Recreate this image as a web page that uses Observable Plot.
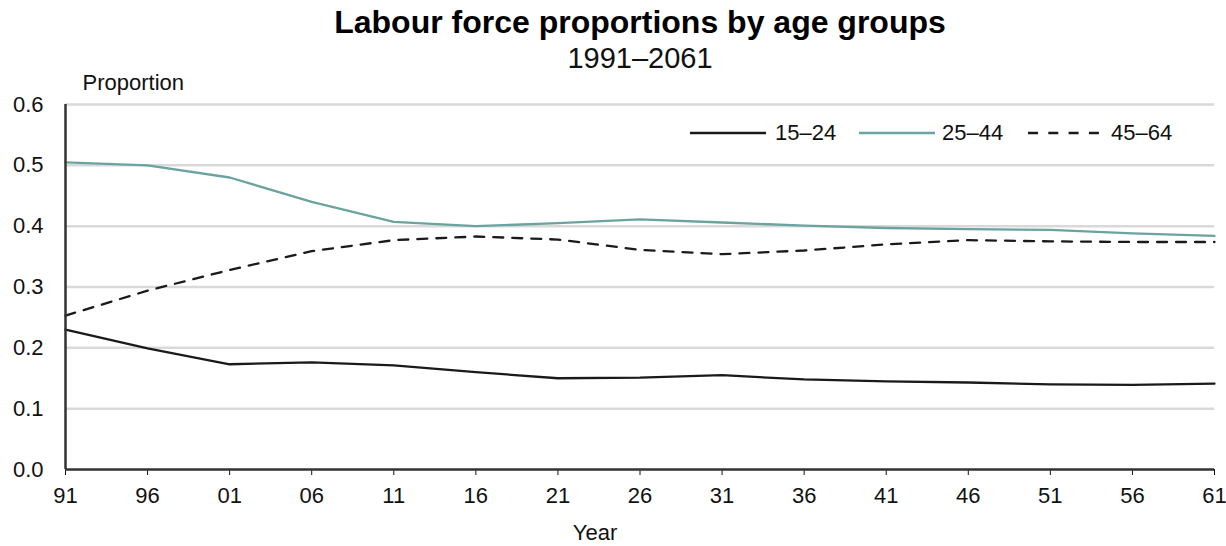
<!DOCTYPE html>
<html>
<head>
<meta charset="utf-8">
<script src="https://cdn.jsdelivr.net/npm/d3@7"></script>
<script src="https://cdn.jsdelivr.net/npm/@observablehq/plot@0.6"></script>
<style>
  body { margin: 0; background: #fff; font-family: "Liberation Sans", Arial, sans-serif; }
  #wrap { position: relative; width: 1226px; height: 546px; }
  #title { position: absolute; left: 0; width: 1280px; top: 4px; text-align: center; font-weight: bold; font-size: 32px; color: #000; white-space: nowrap; }
  #subtitle { position: absolute; left: 0; width: 1280px; top: 42px; text-align: center; font-size: 29px; color: #111; white-space: nowrap; }
  #chart { position: absolute; left: 0; top: 70px; }
  #legend { position: absolute; top: 120px; left: 0; font-size: 22px; color: #111; }
  .item { position: absolute; white-space: nowrap; }
</style>
</head>
<body>
<div id="wrap">
  <div id="title">Labour force proportions by age groups</div>
  <div id="subtitle">1991–2061</div>
  <div id="chart"></div>
  <div id="legend"></div>
</div>
<script>
const years = [1991, 1996, 2001, 2006, 2011, 2016, 2021, 2026, 2031, 2036, 2041, 2046, 2051, 2056, 2061];
const age15to24 = [0.230, 0.199, 0.173, 0.176, 0.171, 0.160, 0.150, 0.151, 0.155, 0.148, 0.145, 0.143, 0.140, 0.139, 0.141];
const age25to44 = [0.505, 0.500, 0.480, 0.440, 0.407, 0.400, 0.405, 0.411, 0.406, 0.401, 0.397, 0.395, 0.394, 0.388, 0.384];
const age45to64 = [0.253, 0.294, 0.328, 0.359, 0.377, 0.383, 0.378, 0.361, 0.354, 0.360, 0.370, 0.377, 0.375, 0.374, 0.374];
const seriesNames = ["15–24", "25–44", "45–64"];
const seriesColors = ["#1a1a1a", "#6aa39f", "#1a1a1a"];
const seriesDash = [null, null, "10,9"];
const yTicks = [0, 0.1, 0.2, 0.3, 0.4, 0.5, 0.6];

const allSeries = [age15to24, age25to44, age45to64];
const data = [];
allSeries.forEach((vals, s) => vals.forEach((v, i) => data.push({year: years[i], value: v, series: seriesNames[s]})));

const W = 1226, H = 476;
const chart = Plot.plot({
  width: W,
  height: H,
  marginLeft: 65,
  marginRight: 12,
  marginTop: 34,
  marginBottom: 77,
  style: {fontFamily: "'Liberation Sans', Arial, sans-serif", fontSize: "22px", color: "#111", background: "#fff"},
  x: {domain: [1991, 2061], ticks: years, tickFormat: d => String(d % 100).padStart(2, "0"), label: null},
  y: {domain: [0, 0.6], ticks: yTicks, tickFormat: d3.format(".1f"), label: null},
  marks: [
    Plot.gridY(yTicks.slice(1), {stroke: "#d9d9d9", strokeOpacity: 1, strokeWidth: 2.5}),
    Plot.axisY({ticks: yTicks, tickSize: 0, tickPadding: 22, tickFormat: d3.format(".1f"), fontSize: 22, label: null}),
    Plot.axisX({ticks: years, tickSize: 6, tickPadding: 12, tickFormat: d => String(d % 100).padStart(2, "0"), fontSize: 22, label: null}),
    ...seriesNames.map((name, s) => Plot.line(data.filter(d => d.series === name), {
      x: "year", y: "value", stroke: seriesColors[s], strokeWidth: 2.3,
      strokeDasharray: seriesDash[s] || undefined, curve: "linear"
    })),
    Plot.ruleX([1991], {stroke: "#333", strokeWidth: 2.5}),
    Plot.ruleY([0], {stroke: "#333", strokeWidth: 2.5}),
    Plot.text(["Proportion"], {frameAnchor: "top-left", lineAnchor: "middle", dx: 17, dy: -22, textAnchor: "start", fontSize: 22, fill: "#111"}),
    Plot.text(["Year"], {frameAnchor: "bottom", lineAnchor: "middle", dx: -45, dy: 63, fontSize: 22, fill: "#111"})
  ]
});
document.getElementById("chart").appendChild(chart);

// Legend overlay inside plot area
const legendPos = [{line: 690, text: 775, w: 76}, {line: 859, text: 942, w: 76}, {line: 1028, text: 1111, w: 71}];
const leg = document.getElementById("legend");
seriesNames.forEach((name, s) => {
  const p = legendPos[s];
  const sw = document.createElementNS("http://www.w3.org/2000/svg", "svg");
  sw.setAttribute("width", p.w); sw.setAttribute("height", 20);
  sw.style.position = "absolute"; sw.style.left = p.line + "px"; sw.style.top = "3px";
  const ln = document.createElementNS("http://www.w3.org/2000/svg", "line");
  ln.setAttribute("x1", 0); ln.setAttribute("x2", p.w); ln.setAttribute("y1", 10); ln.setAttribute("y2", 10);
  ln.setAttribute("stroke", seriesColors[s]); ln.setAttribute("stroke-width", 2.3);
  if (seriesDash[s]) ln.setAttribute("stroke-dasharray", "10,10.3");
  sw.appendChild(ln);
  leg.appendChild(sw);
  const t = document.createElement("div");
  t.className = "item"; t.textContent = name; t.style.left = p.text + "px"; t.style.top = "0px";
  leg.appendChild(t);
});
</script>
</body>
</html>
